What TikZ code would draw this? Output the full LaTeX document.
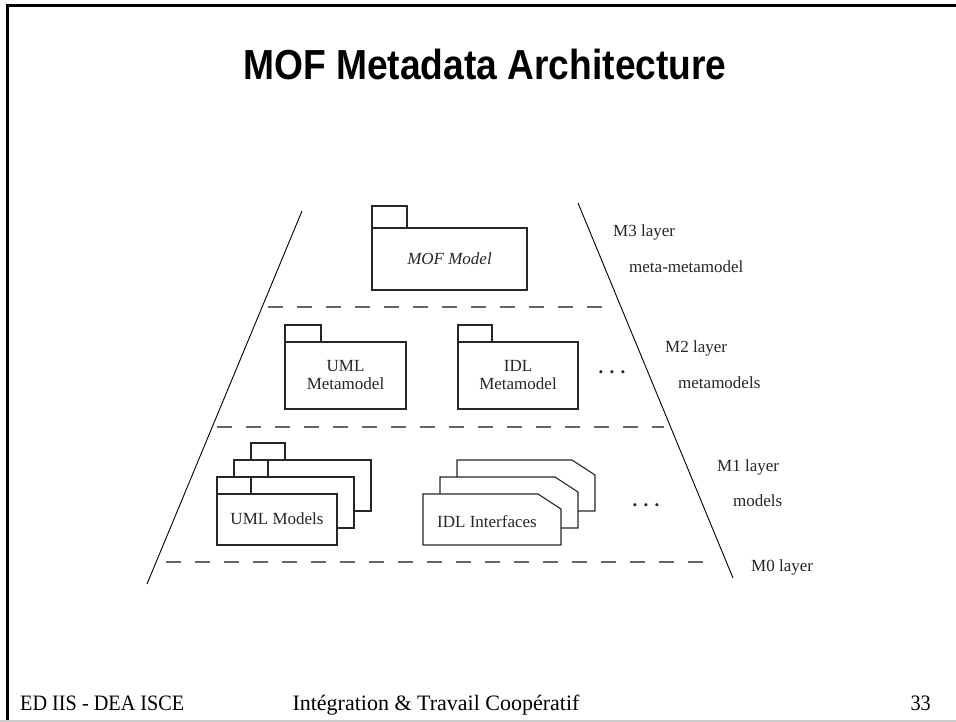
\documentclass[tikz,border=0pt]{standalone}
\usepackage{fontspec}
\setmainfont{Liberation Serif}
\newfontfamily\arialfont{Liberation Sans}
\begin{document}
\begin{tikzpicture}[x=1pt,y=-1pt,
  lbl/.style={font=\fontsize{17}{19}\selectfont, inner sep=0pt, text=black!85},
  foot/.style={font=\fontsize{22}{24}\selectfont, inner sep=0pt},
  pkg/.style={draw=black!85, line width=1.1pt, fill=white},
  slant/.style={draw=black, line width=0.9pt},
  layer/.style={draw=black!60, line width=1.1pt, dash pattern=on 15pt off 14pt}]
\useasboundingbox (0,0) rectangle (956,722);
\fill[white] (0,0) rectangle (956,722);
% frame
\draw[line width=3pt] (956,5.5) -- (7.5,5.5) -- (7.5,720);
\draw[black!20, line width=1.5pt] (0,721) -- (956,721);
% title
\node[font=\arialfont\bfseries\fontsize{42}{46}\selectfont, xscale=0.885, inner sep=0pt] (title) at (485,64) {MOF Metadata Architecture};
% footer
\node[foot, anchor=base west, xscale=0.92] (f1) at (20,710) {ED IIS - DEA ISCE};
\node[foot, anchor=base] (f2) at (436,710) {Intégration \& Travail Coopératif};
\node[foot, anchor=base east, xscale=0.92] (f3) at (931,710) {33};
% slanted sides
\coordinate (lt) at (302,211);
\coordinate (lb) at (147,584);
\coordinate (rt) at (578,203);
\coordinate (rb) at (733,578);
\draw[slant] (lt) -- (lb);
\draw[slant] (rt) -- (rb);
% layer separators
\coordinate (d1a) at (268,307); \coordinate (d1b) at (614,307);
\coordinate (d2a) at (217,427); \coordinate (d2b) at (664,427);
\coordinate (d3a) at (166,562); \coordinate (d3b) at (713,562);
\draw[layer] (d1a) -- (d1b);
\draw[layer] (d2a) -- (d2b);
\draw[layer] (d3a) -- (d3b);
% MOF Model package
\draw[pkg] (372,206) rectangle (407,228);
\draw[pkg] (372,228) rectangle (527,290);
\node[lbl, font=\fontsize{17}{19}\selectfont\itshape] (mof) at (449.5,259) {MOF Model};
% UML Metamodel
\draw[pkg] (285,325) rectangle (321,342);
\draw[pkg] (285,342) rectangle (406,409);
\node[lbl, align=center] (umlmm) at (345.5,375.5) {UML\\[-1pt]Metamodel};
% IDL Metamodel
\draw[pkg] (458,325) rectangle (492,342);
\draw[pkg] (458,342) rectangle (578,409);
\node[lbl, align=center] (idlmm) at (518,375.5) {IDL\\[-1pt]Metamodel};
\node[lbl, font=\fontsize{19}{21}\selectfont\bfseries] (dots2) at (612,372) {.\,\,.\,\,.};
% UML Models stack
\foreach \dx/\dy in {34/-34, 17/-17, 0/0} {
  \draw[pkg] (217+\dx,477+\dy) rectangle (251+\dx,494+\dy);
  \draw[pkg] (217+\dx,494+\dy) rectangle (337+\dx,545+\dy);
}
\node[lbl] (umlm) at (277,519) {UML Models};
% IDL Interfaces stack
\foreach \dx/\dy in {34/-34, 17/-17, 0/0} {
  \draw[pkg] (423+\dx,494+\dy) -- (538+\dx,494+\dy) -- (561+\dx,509+\dy) -- (561+\dx,545+\dy) -- (423+\dx,545+\dy) -- cycle;
}
\node[lbl] (idli) at (487,522) {IDL Interfaces};
\node[lbl, font=\fontsize{19}{21}\selectfont\bfseries] (dots1) at (646,505) {.\,\,.\,\,.};
% layer labels
\node[lbl, anchor=west] (m3) at (613,232) {M3 layer};
\node[lbl, anchor=west] (m3b) at (629,267) {meta-metamodel};
\node[lbl, anchor=west] (m2) at (665,348) {M2 layer};
\node[lbl, anchor=west] (m2b) at (678,383) {metamodels};
\node[lbl, anchor=west] (m1) at (717,467) {M1 layer};
\node[lbl, anchor=west] (m1b) at (733,501) {models};
\node[lbl, anchor=west] (m0) at (751,567) {M0 layer};
\end{tikzpicture}
\end{document}
